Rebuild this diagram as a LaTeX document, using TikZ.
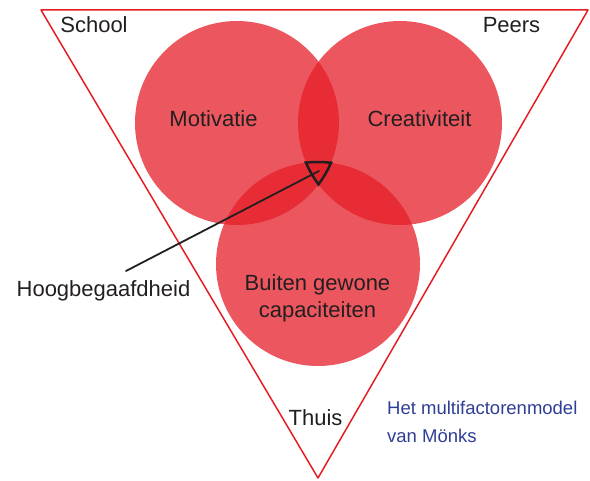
\documentclass[tikz,border=0pt]{standalone}
\usepackage{fontspec}
\setmainfont{Liberation Sans}
\definecolor{cirkelrood}{RGB}{229,30,40}
\definecolor{kaderrood}{RGB}{228,30,37}
\definecolor{tekstgrijs}{RGB}{35,31,32}
\definecolor{titelblauw}{RGB}{46,62,150}

\begin{document}
\begin{tikzpicture}[x=1pt, y=-1pt, line cap=round, line join=round,
    every node/.style={inner sep=0pt, text=tekstgrijs, font=\fontsize{22}{27}\selectfont},
    cirkel/.style={fill=cirkelrood, fill opacity=0.75},
    kader/.style={draw=kaderrood, line width=1.5pt},
    rand/.style={draw=tekstgrijs, line width=2.5pt}]
  \useasboundingbox (0,0) rectangle (590,481);

  % omgeving
  \draw[kader] (41,10) -- (588,10) -- (318,478) -- cycle;

  % de drie factoren
  \coordinate (mot) at (237,123);
  \coordinate (cre) at (400,123);
  \coordinate (cap) at (318,264);
  \fill[cirkel] (mot) circle (102);
  \fill[cirkel] (cre) circle (102);
  \fill[cirkel] (cap) circle (102);

  % doorsnede van de drie
  \begin{scope}
    \clip (cre) circle (103.25); \clip (cap) circle (103.25);
    \draw[rand] (mot) circle (102);
  \end{scope}
  \begin{scope}
    \clip (mot) circle (103.25); \clip (cap) circle (103.25);
    \draw[rand] (cre) circle (102);
  \end{scope}
  \begin{scope}
    \clip (mot) circle (103.25); \clip (cre) circle (103.25);
    \draw[rand] (cap) circle (102);
  \end{scope}

  \node[anchor=base] (school) at (94,33) {School};
  \node[anchor=base] (peers) at (511.5,33) {Peers};
  \node[anchor=base] (thuis) at (315.5,426) {Thuis};
  \node[anchor=base] (motivatie) at (213.5,127) {Motivatie};
  \node[anchor=base] (creativiteit) at (419.5,127) {Creativiteit};
  \node[align=center] (capaciteiten) at (317.5,298) {Buiten gewone\\capaciteiten};
  \node[anchor=base] (hoog) at (103.5,297) {Hoogbegaafdheid};
  \node[anchor=west, align=left, text=titelblauw, font=\fontsize{18.5}{28}\selectfont] (titel) at (387,422) {Het multifactorenmodel\\van Mönks};

  \coordinate (lijnbegin) at (126,271);
  \coordinate (kern) at (319,171);
  \draw[tekstgrijs, line width=1.8pt] (lijnbegin) -- (kern);
\end{tikzpicture}
\end{document}
